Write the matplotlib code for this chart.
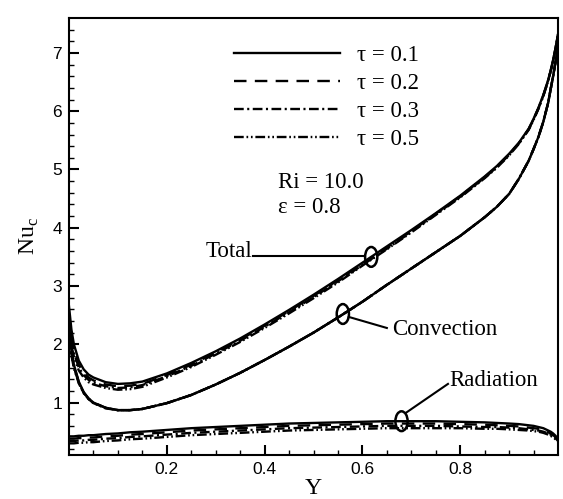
import matplotlib
matplotlib.use("Agg")
import matplotlib.pyplot as plt
from matplotlib.patches import Ellipse

plt.rcParams['lines.scale_dashes'] = False

# data
taus = [0.1, 0.2, 0.3, 0.5]
y_pos = [0.0, 0.005, 0.01, 0.02, 0.03, 0.04, 0.05, 0.075, 0.1, 0.125,
         0.15, 0.2, 0.25, 0.3, 0.35, 0.4, 0.45, 0.5, 0.55, 0.6,
         0.65, 0.7, 0.75, 0.8, 0.85, 0.875, 0.9, 0.92, 0.94, 0.95,
         0.96, 0.97, 0.98, 0.985, 0.99, 0.995, 1.0]

nu_total = [
    [2.65, 2.25, 2.00, 1.72, 1.57, 1.48, 1.43, 1.35, 1.32, 1.33,
     1.36, 1.50, 1.68, 1.88, 2.10, 2.34, 2.59, 2.85, 3.12, 3.40,
     3.68, 3.96, 4.25, 4.55, 4.88, 5.06, 5.27, 5.46, 5.70, 5.87,
     6.06, 6.28, 6.54, 6.70, 6.88, 7.08, 7.32],
    [2.50, 2.14, 1.92, 1.65, 1.51, 1.43, 1.38, 1.31, 1.28, 1.29,
     1.32, 1.47, 1.65, 1.86, 2.08, 2.32, 2.57, 2.83, 3.10, 3.38,
     3.66, 3.94, 4.24, 4.54, 4.87, 5.05, 5.26, 5.45, 5.69, 5.86,
     6.05, 6.27, 6.53, 6.69, 6.87, 7.08, 7.32],
    [2.40, 2.06, 1.85, 1.60, 1.47, 1.39, 1.34, 1.28, 1.25, 1.26,
     1.30, 1.45, 1.63, 1.84, 2.06, 2.30, 2.55, 2.81, 3.08, 3.36,
     3.64, 3.93, 4.23, 4.53, 4.86, 5.04, 5.25, 5.45, 5.69, 5.86,
     6.05, 6.27, 6.53, 6.69, 6.87, 7.08, 7.32],
    [2.30, 1.98, 1.79, 1.55, 1.43, 1.35, 1.31, 1.25, 1.22, 1.23,
     1.27, 1.43, 1.61, 1.82, 2.04, 2.28, 2.53, 2.79, 3.06, 3.35,
     3.63, 3.92, 4.22, 4.52, 4.85, 5.03, 5.24, 5.44, 5.68, 5.85,
     6.04, 6.26, 6.52, 6.69, 6.87, 7.08, 7.32],
]

nu_conv = [
    [2.30, 1.90, 1.65, 1.36, 1.18, 1.07, 1.00, 0.91, 0.87, 0.87,
     0.89, 0.99, 1.13, 1.31, 1.51, 1.73, 1.96, 2.20, 2.46, 2.73,
     3.02, 3.30, 3.58, 3.86, 4.18, 4.36, 4.58, 4.84, 5.15, 5.35,
     5.56, 5.82, 6.15, 6.38, 6.60, 6.85, 7.10],
    [2.25, 1.87, 1.63, 1.35, 1.17, 1.07, 1.00, 0.91, 0.87, 0.87,
     0.89, 0.99, 1.13, 1.31, 1.51, 1.73, 1.96, 2.20, 2.46, 2.73,
     3.02, 3.30, 3.58, 3.86, 4.18, 4.36, 4.58, 4.84, 5.15, 5.35,
     5.56, 5.82, 6.15, 6.38, 6.60, 6.85, 7.10],
    [2.20, 1.84, 1.61, 1.34, 1.17, 1.06, 0.99, 0.91, 0.87, 0.87,
     0.89, 0.99, 1.13, 1.31, 1.51, 1.73, 1.96, 2.20, 2.46, 2.73,
     3.02, 3.30, 3.58, 3.86, 4.18, 4.36, 4.58, 4.84, 5.15, 5.35,
     5.56, 5.82, 6.15, 6.38, 6.60, 6.85, 7.10],
    [2.15, 1.81, 1.59, 1.33, 1.16, 1.06, 0.99, 0.90, 0.87, 0.87,
     0.89, 0.99, 1.13, 1.31, 1.51, 1.73, 1.96, 2.20, 2.46, 2.73,
     3.02, 3.30, 3.58, 3.86, 4.18, 4.36, 4.58, 4.84, 5.15, 5.35,
     5.56, 5.82, 6.15, 6.38, 6.60, 6.85, 7.10],
]

nu_rad = [
    [0.42, 0.42, 0.42, 0.43, 0.43, 0.44, 0.44, 0.46, 0.47, 0.49,
     0.50, 0.53, 0.56, 0.58, 0.60, 0.62, 0.64, 0.65, 0.66, 0.67,
     0.68, 0.68, 0.68, 0.67, 0.66, 0.65, 0.64, 0.63, 0.61, 0.60,
     0.58, 0.56, 0.52, 0.50, 0.47, 0.43, 0.37],
    [0.38, 0.38, 0.38, 0.39, 0.39, 0.40, 0.40, 0.42, 0.43, 0.45,
     0.46, 0.49, 0.52, 0.54, 0.56, 0.58, 0.60, 0.61, 0.62, 0.63,
     0.64, 0.64, 0.64, 0.63, 0.62, 0.61, 0.60, 0.59, 0.57, 0.56,
     0.55, 0.53, 0.49, 0.47, 0.44, 0.41, 0.36],
    [0.34, 0.34, 0.34, 0.35, 0.35, 0.36, 0.36, 0.38, 0.39, 0.41,
     0.42, 0.45, 0.48, 0.50, 0.52, 0.54, 0.56, 0.57, 0.58, 0.59,
     0.60, 0.60, 0.60, 0.59, 0.58, 0.58, 0.57, 0.56, 0.54, 0.53,
     0.52, 0.50, 0.47, 0.45, 0.42, 0.39, 0.34],
    [0.30, 0.30, 0.30, 0.31, 0.31, 0.32, 0.32, 0.34, 0.35, 0.37,
     0.38, 0.41, 0.44, 0.46, 0.48, 0.50, 0.52, 0.53, 0.54, 0.55,
     0.56, 0.56, 0.56, 0.56, 0.55, 0.55, 0.54, 0.53, 0.52, 0.51,
     0.50, 0.48, 0.45, 0.43, 0.40, 0.37, 0.33],
]

styles = ['-', (0, (9, 6)), (0, (7, 2.5, 1.5, 2.5)), (0, (7, 2, 1.2, 2, 1.2, 2))]

serif = ['Liberation Serif', 'DejaVu Serif']
sans = ['Liberation Sans', 'DejaVu Sans']
fs = 16.5

fig = plt.figure(figsize=(5.63, 4.99), dpi=100)
ax = fig.add_axes([69 / 563, 44 / 499, 489 / 563, 437 / 499])

for i, tau in enumerate(taus):
    ax.plot(y_pos, nu_total[i], color='black', lw=1.7, linestyle=styles[i],
            label=f'τ = {tau}')
    ax.plot(y_pos, nu_conv[i], color='black', lw=1.7, linestyle=styles[i])
    ax.plot(y_pos, nu_rad[i], color='black', lw=1.7, linestyle=styles[i])

ax.set_xlim(0, 1)
ax.set_ylim(0.1, 7.6)
ax.set_xticks([0.2, 0.4, 0.6, 0.8])
ax.set_xticks([x / 20 for x in range(1, 20)], minor=True)
ax.set_yticks([1, 2, 3, 4, 5, 6, 7])
ax.set_yticks([0.2 * k for k in range(1, 38)], minor=True)
ax.tick_params(which='both', direction='in', top=False, right=False)
ax.tick_params(which='major', length=7, width=1.5, labelsize=12.5, pad=5)
ax.tick_params(which='minor', length=3.5, width=1.0)
for lab in ax.get_xticklabels() + ax.get_yticklabels():
    lab.set_family(sans)
for sp in ax.spines.values():
    sp.set_linewidth(1.5)

ax.set_xlabel('Y', family=serif, fontsize=17, labelpad=1)
ax.set_ylabel(r'Nu$_\mathregular{c}$', family=serif, fontsize=17, labelpad=8)

leg = ax.legend(loc='upper left', bbox_to_anchor=(0.315, 0.964), frameon=False,
                borderpad=0, handlelength=4.6, handletextpad=0.75, labelspacing=0.3,
                prop={'family': serif, 'size': fs})

ax.text(0.427, 4.77, 'Ri = 10.0', family=serif, fontsize=fs, va='center')
ax.text(0.427, 4.34, 'ε = 0.8', family=serif, fontsize=fs, va='center')

# annotations with small ellipses
ax.text(0.375, 3.6, 'Total', family=serif, fontsize=fs, va='center', ha='right')
ax.plot([0.377, 0.605], [3.52, 3.52], color='black', lw=1.5)
ax.add_patch(Ellipse((0.618, 3.5), 0.025, 0.34, fill=False, lw=1.8))

ax.text(0.66, 2.25, 'Convection', family=serif, fontsize=fs, va='center')
ax.plot([0.572, 0.65], [2.47, 2.28], color='black', lw=1.5)
ax.add_patch(Ellipse((0.56, 2.52), 0.025, 0.34, fill=False, lw=1.8))

ax.text(0.777, 1.38, 'Radiation', family=serif, fontsize=fs, va='center')
ax.plot([0.69, 0.775], [0.83, 1.32], color='black', lw=1.5)
ax.add_patch(Ellipse((0.68, 0.68), 0.025, 0.34, fill=False, lw=1.8))

fig.savefig('out.png', dpi=100)
